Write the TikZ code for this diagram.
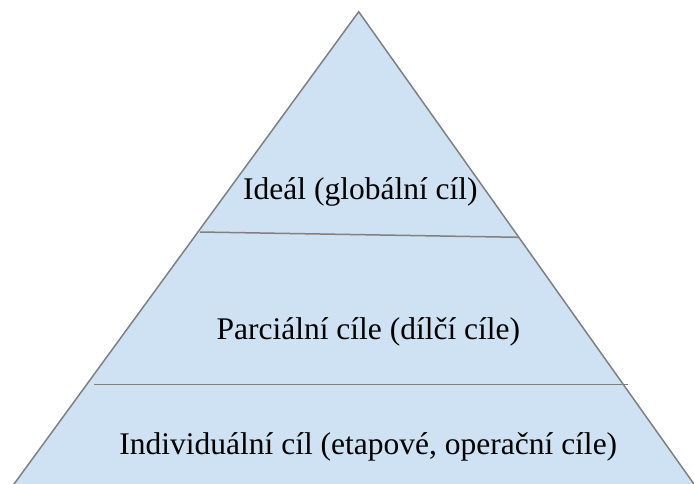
\documentclass[tikz,border=0pt]{standalone}
\usepackage{fontspec}
\setmainfont{Liberation Serif}
\usepackage{tikz}

\definecolor{pyrfill}{HTML}{CFE2F3}
\definecolor{pyrline}{HTML}{808080}

\begin{document}
\begin{tikzpicture}[x=1pt,y=-1pt,
    level/.style={font=\fontsize{31.5}{36}\selectfont, anchor=base, inner sep=0pt}]
        \useasboundingbox (0,0) rectangle (694,483);
        \clip (0,0) rectangle (694,483);

        \coordinate (top) at (358.7, 11.7){};
        \coordinate (bl) at (2.4, 500){};
        \coordinate (br) at (705.3, 500){};
        \coordinate (l1) at (200, 232){};
        \coordinate (r1) at (519, 237.3){};
        \coordinate (l2) at (94, 384.5){};
        \coordinate (r2) at (628, 384.5){};

        \draw[pyrline, fill=pyrfill, line width=1.5pt, line join=miter] (top) -- (br) -- (bl) -- cycle;
        \draw[pyrline, line width=1.5pt] (l1) -- (r1);
        \draw[pyrline, line width=1.5pt] (l2) -- (r2);

        \node[level] (ideal) at (360.4, 199) {Ideál (globální cíl)};
        \node[level] (parc) at (368.3, 339.3) {Parciální cíle (dílčí cíle)};
        \node[level] (indiv) at (368.3, 454.3) {Individuální cíl (etapové, operační cíle)};
    \end{tikzpicture}
\end{document}
